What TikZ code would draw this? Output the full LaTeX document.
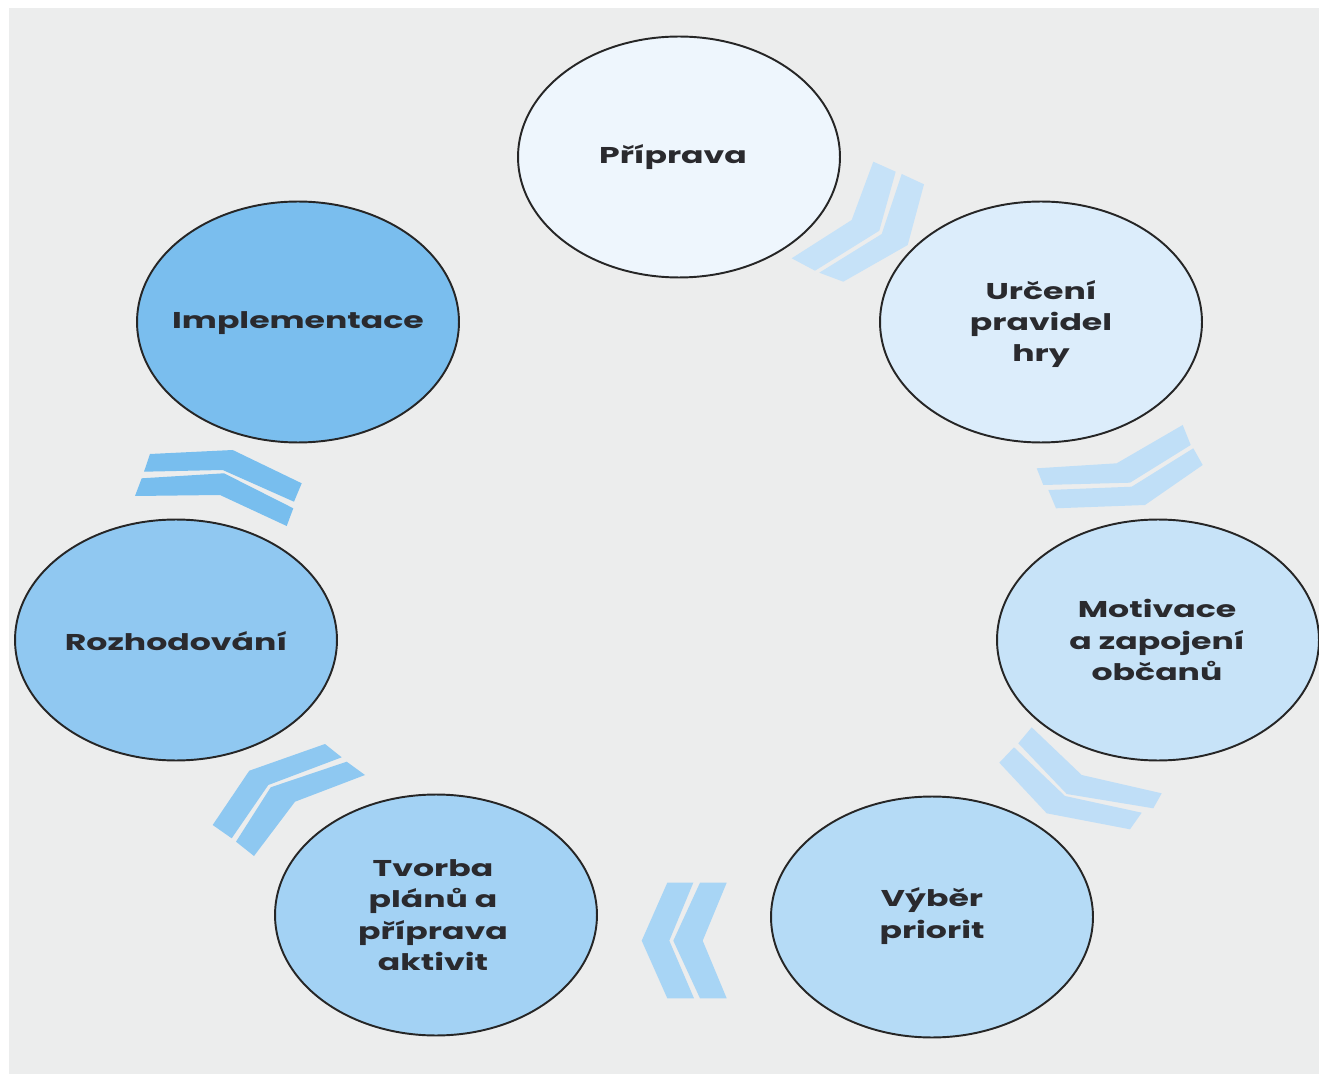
\documentclass[tikz,border=0pt]{standalone}
\usepackage{fontspec}
\newfontfamily\lblfont{Poppins}[FakeStretch=1.45]
\usetikzlibrary{shapes.geometric}
\definecolor{bg}{HTML}{ECEDED}
\definecolor{txt}{HTML}{2A2A2E}
\definecolor{e1}{HTML}{EEF6FD}
\definecolor{e2}{HTML}{DCEDFB}
\definecolor{e3}{HTML}{C7E3F8}
\definecolor{e4}{HTML}{B5DBF6}
\definecolor{e5}{HTML}{A3D2F4}
\definecolor{e6}{HTML}{90C8F1}
\definecolor{e7}{HTML}{7ABEEE}
\definecolor{k1}{HTML}{C6E2F8}
\definecolor{k2}{HTML}{C0DFF7}
\definecolor{k3}{HTML}{BFDEF7}
\definecolor{k4}{HTML}{A8D5F5}
\definecolor{k5}{HTML}{8EC8F1}
\definecolor{k6}{HTML}{78BEEE}
\begin{document}
\begin{tikzpicture}[x=0.02cm,y=-0.02cm,
  stage/.style={ellipse, draw=black!85, line width=1.1pt,
    minimum width=6.44cm, minimum height=4.82cm, inner sep=0pt},
  lbl/.style={font=\lblfont\bfseries\fontsize{13}{17.8}\selectfont, text=txt, align=center, inner sep=0pt}]
\useasboundingbox (0,0) rectangle (1319,1074);
\fill[bg] (9,8) rectangle (1319,1074);
% chevrons
\fill[k1] (873.3,161.7) -- (895.7,171.7) -- (879.3,230.7) -- (815,270.7) -- (791.7,258.3) -- (851.7,220) -- cycle;
\fill[k1] (901.7,174) -- (924,184.3) -- (907.7,245) -- (843.3,281.7) -- (819.3,272.7) -- (881.7,234) -- cycle;
\fill[k2] (1036.7,468.3) -- (1043.3,485) -- (1130,482.7) -- (1190.7,445) -- (1182.7,425) -- (1116.7,463.3) -- cycle;
\fill[k2] (1048.3,490) -- (1056,508.3) -- (1145,505) -- (1202.7,465) -- (1193.3,448.3) -- (1131.7,486.7) -- cycle;
\fill[k3] (1018.3,743.3) -- (1031.7,727.3) -- (1081.7,775) -- (1161.7,793.3) -- (1153.3,808.3) -- (1066.7,794) -- cycle;
\fill[k3] (999.3,762.7) -- (1014,747.3) -- (1065,796) -- (1141.7,812.7) -- (1130,829.3) -- (1046.7,813.3) -- cycle;
\fill[k4] (667.3,882.7) -- (693.3,882.7) -- (669.3,940.7) -- (694,998.3) -- (667.3,998.3) -- (641.7,940.7) -- cycle;
\fill[k4] (700,882.7) -- (726.7,882.7) -- (702.7,940.7) -- (726.7,998.3) -- (700,998.3) -- (673.3,940.7) -- cycle;
\fill[k5] (249.3,770.7) -- (325,744) -- (341.7,757.3) -- (268.3,785) -- (231.7,838.3) -- (212.7,825) -- cycle;
\fill[k5] (346.7,761.7) -- (365,775) -- (295,801.7) -- (254,856) -- (236,841.7) -- (270.7,787.3) -- cycle;
\fill[k6] (150,454) -- (144,471.7) -- (222.7,470) -- (294,501.7) -- (301.7,483.3) -- (232.7,450) -- cycle;
\fill[k6] (141.7,478.3) -- (135,496) -- (220,495) -- (286.7,526) -- (293.3,508.3) -- (224,473.3) -- cycle;
% stages
\node[stage, fill=e1] (p1) at (679,157) {};
\node[stage, fill=e2] (p2) at (1041,322) {};
\node[stage, fill=e3] (p3) at (1158,640) {};
\node[stage, fill=e4] (p4) at (932,917) {};
\node[stage, fill=e5] (p5) at (436,915) {};
\node[stage, fill=e6] (p6) at (176,640) {};
\node[stage, fill=e7] (p7) at (298,322) {};
% labels
\node[lbl] (t1) at (673,157) {Příprava};
\node[lbl] (t2) at (1041,324) {Určení\\pravidel\\hry};
\node[lbl] (t3) at (1157,640) {Motivace\\a zapojení\\občanů};
\node[lbl] (t4) at (932,916) {Výběr\\priorit};
\node[lbl] (t5) at (433,915) {Tvorba\\plánů a\\příprava\\aktivit};
\node[lbl] (t6) at (176,641) {Rozhodování};
\node[lbl] (t7) at (298,323) {Implementace};
\end{tikzpicture}
\end{document}
